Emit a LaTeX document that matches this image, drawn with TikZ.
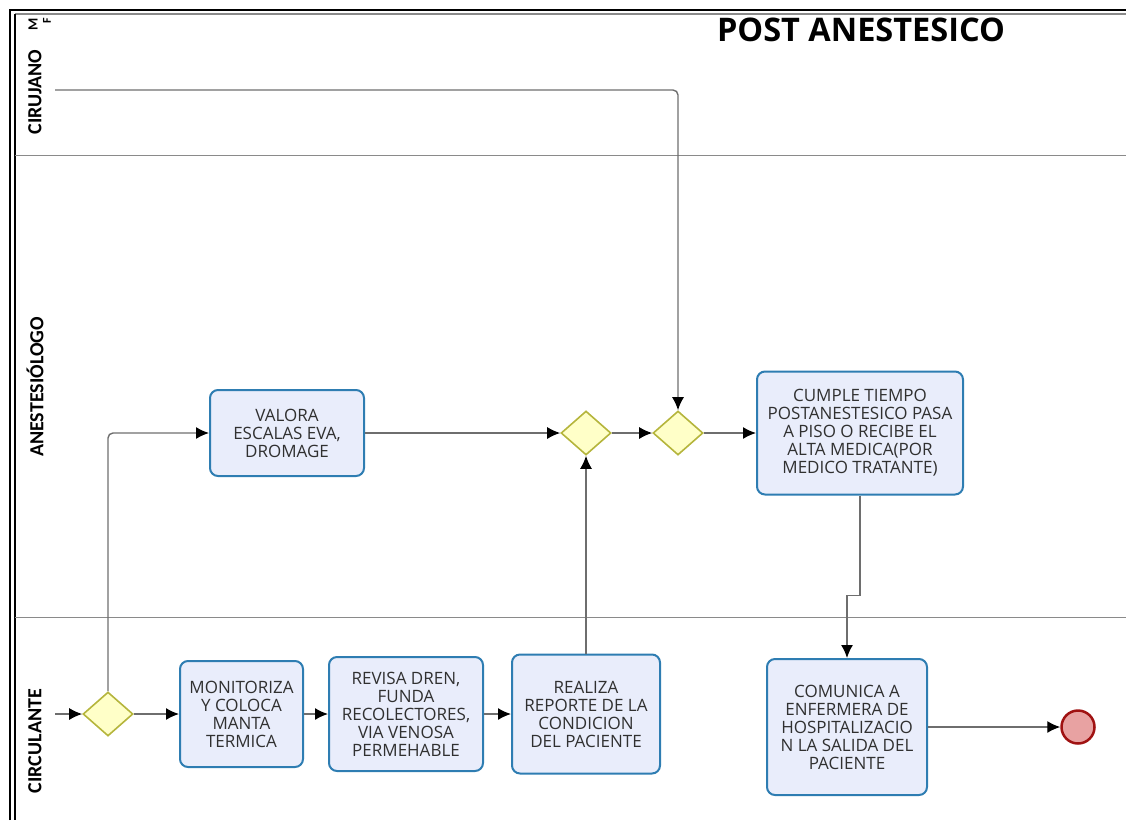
\documentclass[tikz,border=0pt]{standalone}
\usepackage{fontspec}
\setmainfont{Open Sans}
\newfontfamily\lanefont{Carlito}
\usetikzlibrary{shapes.geometric,arrows.meta}
\definecolor{taskfill}{HTML}{E9EDFB}
\definecolor{taskdraw}{HTML}{2E7DB2}
\definecolor{gwfill}{HTML}{FFFFC8}
\definecolor{gwdraw}{HTML}{B5B53C}
\definecolor{endfill}{HTML}{E8A2A2}
\definecolor{enddraw}{HTML}{A01212}
\definecolor{flow}{HTML}{6E6E6E}
\definecolor{lane}{HTML}{8A8A8A}
\definecolor{txt}{HTML}{303030}
\tikzset{
  task/.style={draw=taskdraw, fill=taskfill, line width=2pt, rounded corners=8pt,
    align=center, inner sep=0pt, text=txt, font=\fontsize{17}{18}\selectfont},
  gw/.style={diamond, draw=gwdraw, fill=gwfill, line width=1.6pt, inner sep=0pt,
    minimum width=50pt, minimum height=44pt},
  endev/.style={circle, draw=enddraw, fill=endfill, line width=2.5pt, minimum size=33pt, inner sep=0pt},
  flowline/.style={draw=flow, line width=1.4pt, -{Latex[length=13pt,width=12pt,color=black]}},
  lanelabel/.style={rotate=90, font=\lanefont\bfseries\fontsize{20}{24}\selectfont, text=black},
}
\begin{document}
\begin{tikzpicture}[x=1pt,y=-1pt]
\useasboundingbox (0,0) rectangle (1126,820);
% frame
\draw[black, line width=1.6pt] (10,820) -- (10,10) -- (1126,10);
\draw[lane, line width=1.2pt] (1126,14) -- (15,14);
\draw[black, line width=1.2pt] (15,14) -- (15,820);
\draw[lane, line width=1pt] (15,155) -- (1126,155);
\draw[lane, line width=1pt] (15,617) -- (1126,617);
% lane labels
\node[lanelabel] (lc) at (35,92) {CIRUJANO};
\node[lanelabel] (la) at (35,387) {ANESTESIÓLOGO};
\node[lanelabel] (lci) at (35,741) {CIRCULANTE};
\node[rotate=90, font=\lanefont\bfseries\fontsize{14}{14}\selectfont] (lm) at (33,24) {M};
\node[rotate=90, font=\lanefont\bfseries\fontsize{12}{12}\selectfont] (lf) at (47,21) {F};
% title
\node[font=\bfseries\fontsize{32.5}{34}\selectfont] (title) at (861,30) {POST ANESTESICO};
% nodes
\coordinate (start) at (55,714);
\coordinate (cstart) at (55,90);
\node[gw] (g1) at (108,714) {};
\node[task, minimum width=123pt, minimum height=106pt] (t1) at (241.5,714) {MONITORIZA\\Y COLOCA\\MANTA\\TERMICA};
\node[task, minimum width=154pt, minimum height=114pt] (t2) at (406,714) {REVISA DREN,\\FUNDA\\RECOLECTORES,\\VIA VENOSA\\PERMEHABLE};
\node[task, minimum width=148pt, minimum height=119pt] (t3) at (586,714) {REALIZA\\REPORTE DE LA\\CONDICION\\DEL PACIENTE};
\node[task, minimum width=154pt, minimum height=86pt] (t4) at (287,433) {VALORA\\ESCALAS EVA,\\DROMAGE};
\node[gw] (g2) at (586,433) {};
\node[gw] (g3) at (678,433) {};
\node[task, minimum width=206pt, minimum height=123pt] (t5) at (860,433) {CUMPLE TIEMPO\\POSTANESTESICO PASA\\A PISO O RECIBE EL\\ALTA MEDICA(POR\\MEDICO TRATANTE)};
\node[task, minimum width=160pt, minimum height=136pt] (t6) at (847,727) {COMUNICA A\\ENFERMERA DE\\HOSPITALIZACIO\\N LA SALIDA DEL\\PACIENTE};
\node[endev] (end) at (1078,727) {};
% flows
\draw[flowline] (start) -- (g1.west);
\draw[flowline, rounded corners=5pt] (g1.north) |- (t4.west);
\draw[flowline] (g1.east) -- (t1.west);
\draw[flowline] (t1.east) -- (t2.west);
\draw[flowline] (t2.east) -- (t3.west);
\draw[flowline] (t3.north) -- (g2.south);
\draw[flowline] (t4.east) -- (g2.west);
\draw[flowline] (g2.east) -- (g3.west);
\draw[flowline, rounded corners=5pt] (cstart) -| (g3.north);
\draw[flowline] (g3.east) -- (t5.west);
\draw[flowline] (t5.south) -- ++(0,100) -| (t6.north);
\draw[flowline] (t6.east) -- (end.west);
\end{tikzpicture}
\end{document}
